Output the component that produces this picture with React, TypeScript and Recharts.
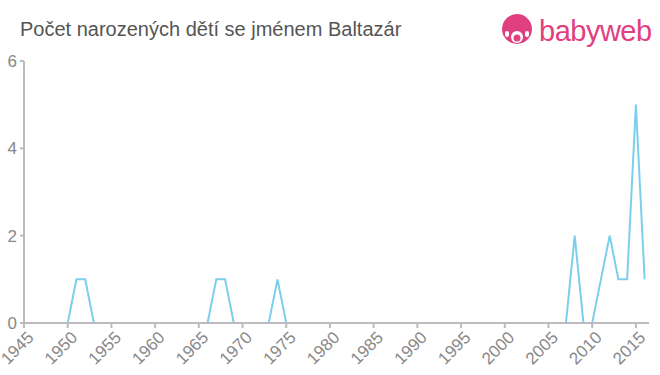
import React from 'react';
import { LineChart, Line, XAxis, YAxis } from 'recharts';

const years = [
  1945, 1946, 1947, 1948, 1949, 1950, 1951, 1952, 1953, 1954, 1955, 1956, 1957, 1958, 1959,
  1960, 1961, 1962, 1963, 1964, 1965, 1966, 1967, 1968, 1969, 1970, 1971, 1972, 1973, 1974,
  1975, 1976, 1977, 1978, 1979, 1980, 1981, 1982, 1983, 1984, 1985, 1986, 1987, 1988, 1989,
  1990, 1991, 1992, 1993, 1994, 1995, 1996, 1997, 1998, 1999, 2000, 2001, 2002, 2003, 2004,
  2005, 2006, 2007, 2008, 2009, 2010, 2011, 2012, 2013, 2014, 2015, 2016,
];
const births = [
  0, 0, 0, 0, 0, 0, 1, 1, 0, 0, 0, 0, 0, 0, 0,
  0, 0, 0, 0, 0, 0, 0, 1, 1, 0, 0, 0, 0, 0, 1,
  0, 0, 0, 0, 0, 0, 0, 0, 0, 0, 0, 0, 0, 0, 0,
  0, 0, 0, 0, 0, 0, 0, 0, 0, 0, 0, 0, 0, 0, 0,
  0, 0, 0, 2, 0, 0, 1, 2, 1, 1, 5, 1,
];
const xTicks = [1945, 1950, 1955, 1960, 1965, 1970, 1975, 1980, 1985, 1990, 1995, 2000, 2005, 2010, 2015];
const yTicks = [0, 2, 4, 6];

const data = years.map((year, i) => ({ year, count: births[i] }));

const axisColor = '#bbbbbb';
const tickStyle = { fill: '#888888', fontSize: 17, fontFamily: 'Liberation Sans, Arial, sans-serif' };

function AngledTick(props: any) {
  const { x, y, payload } = props;
  return (
    <g transform={`translate(${x + 5},${y + 3})`}>
      <text x={0} y={0} dy={8} textAnchor="end" transform="rotate(-45)" {...tickStyle}>
        {payload.value}
      </text>
    </g>
  );
}

export default function App() {
  return (
    <div style={{ position: 'absolute', left: 0, top: 0, width: 660, height: 375, background: '#fff' }}>
      <div
        style={{
          position: 'absolute',
          left: 20,
          top: 18,
          fontFamily: 'Liberation Sans, Arial, sans-serif',
          fontSize: 20,
          color: '#555555',
        }}
      >
        Počet narozených dětí se jménem Baltazár
      </div>
      <div style={{ position: 'absolute', left: 500, top: 13, display: 'flex', alignItems: 'center' }}>
        <svg width={34} height={36} viewBox="0 0 34 36">
          <circle cx={17} cy={16} r={15} fill="#e0407f" />
          <circle cx={17} cy={24} r={6} fill="#fff" />
          <circle cx={17} cy={25} r={3.5} fill="#e0407f" />
          <rect x={5} y={18} width={4} height={6} rx={2} fill="#fff" />
          <rect x={25} y={18} width={4} height={6} rx={2} fill="#fff" />
        </svg>
        <span
          style={{
            fontFamily: 'Liberation Sans, Arial, sans-serif',
            fontSize: 29,
            color: '#e0407f',
            marginLeft: 5,
            letterSpacing: -0.5,
          }}
        >
          babyweb
        </span>
      </div>
      <div style={{ position: 'absolute', left: 0, top: 0 }}>
        <LineChart width={660} height={375} data={data} margin={{ top: 61, right: 11, bottom: 0, left: 0 }}>
          <XAxis
            dataKey="year"
            type="number"
            domain={[1945, 2016.5]}
            ticks={xTicks}
            interval={0}
            height={52}
            stroke={axisColor}
            strokeWidth={2}
            tickSize={5}
            tick={<AngledTick />}
          />
          <YAxis
            domain={[0, 6]}
            ticks={yTicks}
            width={24}
            stroke={axisColor}
            strokeWidth={2}
            tickSize={4}
            tickMargin={3}
            tick={tickStyle}
          />
          <Line
            type="linear"
            dataKey="count"
            stroke="#7ccfec"
            strokeWidth={2}
            dot={false}
            isAnimationActive={false}
          />
        </LineChart>
      </div>
    </div>
  );
}
